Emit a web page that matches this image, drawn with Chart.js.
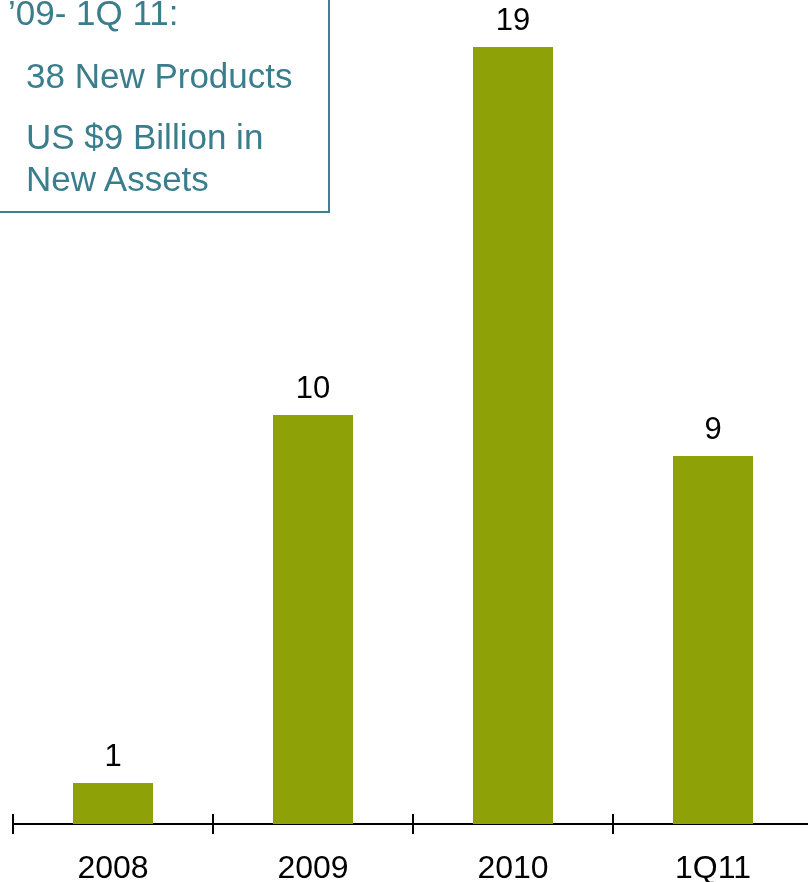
<!DOCTYPE html>
<html>
<head>
<meta charset="utf-8">
<script src="https://cdn.jsdelivr.net/npm/chart.js@4"></script>
<style>
  html, body { margin: 0; padding: 0; background: #fff; }
  body { width: 808px; height: 882px; overflow: hidden; position: relative; font-family: "Liberation Sans", Arial, sans-serif; }
  #wrap { position: absolute; left: 0; top: 0; width: 820px; height: 882px; }
  .note {
    position: absolute; left: -12px; top: -12px; width: 342px; height: 225px;
    border: 2px solid #3d8090; box-sizing: border-box; color: #3a7d8c; font-size: 35px;
  }
  .note div { position: absolute; white-space: nowrap; line-height: 42px; }
</style>
</head>
<body>
<div id="wrap"><canvas id="chart" width="820" height="882"></canvas></div>
<div class="note">
  <div style="left:18px; top:2px;">’09- 1Q 11:</div>
  <div style="left:36px; top:65px;">38 New Products</div>
  <div style="left:36px; top:126px;">US $9 Billion in<br>New Assets</div>
</div>
<script>
const categories = ['2008', '2009', '2010', '1Q11'];
const newProducts = [1, 10, 19, 9];

const BAR_COLOR = '#8ea106';
const FONT = '"Liberation Sans", Arial, sans-serif';

// value labels above each bar
const valueLabels = {
  id: 'valueLabels',
  afterDatasetsDraw(chart) {
    const { ctx } = chart;
    const meta = chart.getDatasetMeta(0);
    ctx.save();
    ctx.font = '31px ' + FONT;
    ctx.fillStyle = '#000';
    ctx.textAlign = 'center';
    ctx.textBaseline = 'alphabetic';
    meta.data.forEach((bar, i) => {
      ctx.fillText(String(newProducts[i]), bar.x, bar.y - 17);
    });
    ctx.restore();
  }
};

// tick marks between categories, crossing the axis line
const boundaryTicks = {
  id: 'boundaryTicks',
  afterDraw(chart) {
    const { ctx } = chart;
    const x = chart.scales.x;
    const y0 = x.top;
    ctx.save();
    ctx.strokeStyle = '#000';
    ctx.lineWidth = 2;
    for (let i = 0; i <= categories.length; i++) {
      const px = Math.round(x.getPixelForValue(i - 0.5));
      ctx.beginPath();
      ctx.moveTo(px, y0 - 10);
      ctx.lineTo(px, y0 + 10);
      ctx.stroke();
    }
    ctx.restore();
  }
};

new Chart(document.getElementById('chart'), {
  type: 'bar',
  data: {
    labels: categories,
    datasets: [{
      data: newProducts,
      backgroundColor: BAR_COLOR,
      borderWidth: 0,
      categoryPercentage: 1,
      barPercentage: 0.4
    }]
  },
  options: {
    responsive: false,
    animation: false,
    layout: { padding: { left: 13, right: 7, top: 6, bottom: 0 } },
    plugins: { legend: { display: false }, tooltip: { enabled: false } },
    scales: {
      x: {
        grid: { display: false, drawTicks: false },
        border: { display: true, color: '#000', width: 2 },
        ticks: { color: '#000', font: { family: FONT, size: 32 }, padding: 26, maxRotation: 0 },
        afterFit(scale) { scale.height = 58; }
      },
      y: { display: false, min: 0, max: 20 }
    }
  },
  plugins: [valueLabels, boundaryTicks]
});
</script>
</body>
</html>
